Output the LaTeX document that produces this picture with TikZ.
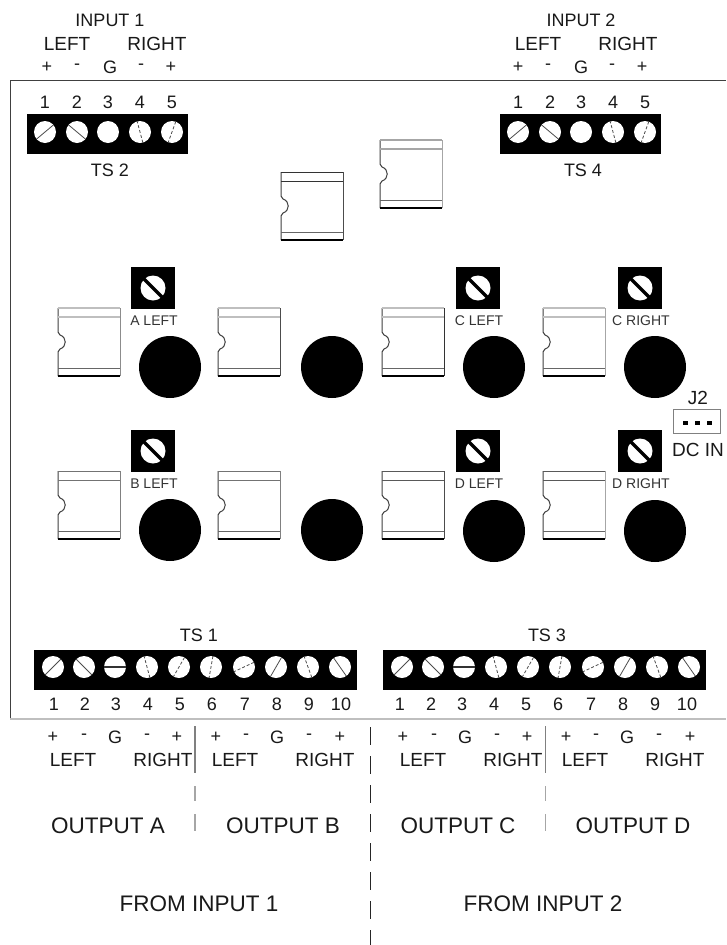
\documentclass[tikz,border=0pt]{standalone}
\usepackage{fontspec}
\setmainfont{Liberation Sans}
\usetikzlibrary{calc}
\tikzset{
	txtbig/.style={font=\fontsize{22.5}{24}\selectfont,text=black!90},
	txtmid/.style={font=\fontsize{19}{21}\selectfont,text=black!90},
	txtnum/.style={font=\fontsize{18}{20}\selectfont,text=black!90},
	txtpot/.style={font=\fontsize{14}{16}\selectfont,text=black!80},
	screwslot/.style={line width=0.8pt,black!70},
	dashslot/.style={line width=0.8pt,black!70,dash pattern=on 3pt off 2pt},
}
\newcommand{\relaybox}[5]{
	\begin{scope}[shift={(#1,#2)}]
		\draw[line width=1pt,black!75] (0,0)--(0,24)--(2,27) .. controls (9,29) and (9,39) .. (2,41)--(0,44)--(0,68);
		\draw[line width=#5,#3] (0,0)--(62,0);
		\draw[line width=#5,#3] (0,9)--(62,9);
		\draw[line width=1pt,#4] (62,0)--(62,68);
		\draw[line width=1pt,black!60] (0,60)--(62,60);
		\draw[line width=1.2pt] (0,68)--(62,68);
	\end{scope}
}
\newcommand{\potbox}[2]{
	\fill (#1-22,#2-21) rectangle (#1+22,#2+21);
	\fill[white] (#1,#2) circle (12.5);
	\draw[line width=3.5pt] (#1,#2) ++(45:15) -- ++(225:30);
}
\begin{document}
\begin{tikzpicture}[x=1pt,y=-1pt]
	\useasboundingbox (0,0) rectangle (726,945);
	\fill[white] (0,0) rectangle (726,945);
	% board edges
	\draw[line width=1pt,black!75] (10,719)--(10,80)--(726,80);
	\draw[line width=2.4pt,black!25] (10,719)--(726,719);
	% input labels
	\node[txtnum] (inone) at (110,20) {INPUT 1};
	\node[txtnum] (intwo) at (581,20) {INPUT 2};
	\foreach \ox/\oname in {0/a,471/b}{
		\node[txtmid] (left\oname) at (67+\ox,44) {LEFT};
		\node[txtmid] (right\oname) at (157+\ox,44) {RIGHT};
		\foreach \sx/\stxt/\sid in {47/+/1,77/-/2,110/G/3,141/-/4,171/+/5}{
			\node[txtnum] (pin\oname\sid) at (\sx+\ox,67) {\stxt};
		}
	}
	% small terminal blocks
	\foreach \ox/\oname/\otxt in {0/b/TS 2,473/d/TS 4}{
		\fill (27+\ox,113.5) rectangle (188+\ox,153.5);
		\node[txtnum] (ts\oname) at (110+\ox,170) {\otxt};
		\foreach \sx/\sid in {45/1,77/2,108/3,140/4,172/5}{
			\node[txtnum] (num\oname\sid) at (\sx+\ox,102) {\sid};
			\fill[white] (\sx+\ox,132) circle (11);
		}
		\draw[screwslot] (45+\ox,132) ++(-40:11) -- ++(140:22);
		\draw[screwslot] (77+\ox,132) ++(40:11) -- ++(220:22);
		\draw[dashslot] (140+\ox,132) ++(75:11) -- ++(255:22);
		\draw[dashslot] (172+\ox,132) ++(-70:11) -- ++(110:22);
	}
	% relays
	\relaybox{281}{172}{black!80}{black!70}{1pt}
	\relaybox{380}{140}{black!35}{black!35}{1.5pt}
	\relaybox{58}{308}{black!25}{black!45}{2pt}
	\relaybox{218}{308}{black!25}{black!70}{2pt}
	\relaybox{382}{308}{black!25}{black!80}{2pt}
	\relaybox{543}{308}{black!25}{black!35}{2pt}
	\relaybox{58}{471}{black!55}{black!50}{1pt}
	\relaybox{218}{471}{black!55}{black!50}{1pt}
	\relaybox{382}{471}{black!65}{black!70}{1pt}
	\relaybox{543}{471}{black!65}{black!35}{1pt}
	% pots and knobs
	\foreach \ax/\ay/\alab/\aid in {153/288/A LEFT/a,153/451/B LEFT/b,478/288/C LEFT/c,478/451/D LEFT/d,640/288/C RIGHT/e,640/451/D RIGHT/f}{
		\potbox{\ax}{\ay}
		\node[txtpot] (pot\aid) at (\ax+1,\ay+33) {\alab};
	}
	\foreach \cx/\cy in {170/367,332/367,494/367,655/367,170/530,332/530,494/531,655/531}{
		\fill (\cx,\cy) circle (31);
	}
	% dc connector
	\node[txtmid] (jtwo) at (698,398) {J2};
	\draw[line width=1pt,black!50] (673,409) rectangle (720,433);
	\foreach \dx in {685,697,709}{
		\fill (\dx-2.5,421) rectangle (\dx+2.5,425);
	}
	\node[txtmid] (dcin) at (698,450) {DC IN};
	% big terminal blocks
	\foreach \ox/\onum/\olab/\oname/\otxt in {0/1/199/a/TS 1,349/347/547/c/TS 3}{
		\fill (34+\ox,650) rectangle (357+\ox,690);
		\node[txtnum] (ts\oname) at (\olab,635) {\otxt};
		\foreach \sx/\sid in {53/1,84/2,115/3,147/4,179/5,211/6,244/7,276/8,308/9,340/10}{
			\node[txtnum] (num\oname\sid) at (\sx+\onum,704) {\sid};
			\fill[white] (\sx+\ox,667) circle (11);
		}
		\draw[screwslot] (53+\ox,667) ++(-45:11) -- ++(135:22);
		\draw[screwslot] (84+\ox,667) ++(45:11) -- ++(225:22);
		\draw[line width=1.4pt,black!80] (104+\ox,667)--(126+\ox,667);
		\draw[dashslot] (147+\ox,667) ++(75:11) -- ++(255:22);
		\draw[dashslot] (179+\ox,667) ++(-60:11) -- ++(120:22);
		\draw[dashslot] (211+\ox,667) ++(-80:11) -- ++(100:22);
		\draw[dashslot] (244+\ox,667) ++(-25:11) -- ++(155:22);
		\draw[screwslot] (276+\ox,667) ++(-60:11) -- ++(120:22);
		\draw[dashslot] (308+\ox,667) ++(70:11) -- ++(250:22);
		\draw[screwslot] (340+\ox,667) ++(55:11) -- ++(235:22);
	}
	% output labels
	\foreach \ox/\ofrom/\oname/\otxta/\otxtb/\otxtc in {0/199/p/OUTPUT A/OUTPUT B/FROM INPUT 1,350/543/q/OUTPUT C/OUTPUT D/FROM INPUT 2}{
		\node[txtmid] (lefta\oname) at (73+\ox,760) {LEFT};
		\node[txtmid] (righta\oname) at (163+\ox,760) {RIGHT};
		\node[txtmid] (leftb\oname) at (235+\ox,760) {LEFT};
		\node[txtmid] (rightb\oname) at (325+\ox,760) {RIGHT};
		\foreach \sx/\stxt/\sid in {53/+/1,84/-/2,115/G/3,147/-/4,177/+/5,216/+/6,246/-/7,277/G/8,309/-/9,340/+/10}{
			\node[txtnum] (out\oname\sid) at (\sx+\ox,737) {\stxt};
		}
		\node[txtbig] (outa\oname) at (108+\ox,826) {\otxta};
		\node[txtbig] (outb\oname) at (283+\ox,826) {\otxtb};
		\node[txtbig] (from\oname) at (\ofrom,904) {\otxtc};
	}
	% dividers
	\foreach \dx in {195,545.5}{
		\draw[line width=1.2pt,black!50] (\dx,726)--(\dx,773);
		\draw[line width=1.2pt,black!35] (\dx,786)--(\dx,801);
		\draw[line width=1.2pt,black!35] (\dx,814)--(\dx,831);
	}
	\draw[line width=1.6pt,black!85,dash pattern=on 18pt off 11pt] (370.5,727)--(370.5,945);
\end{tikzpicture}
\end{document}
